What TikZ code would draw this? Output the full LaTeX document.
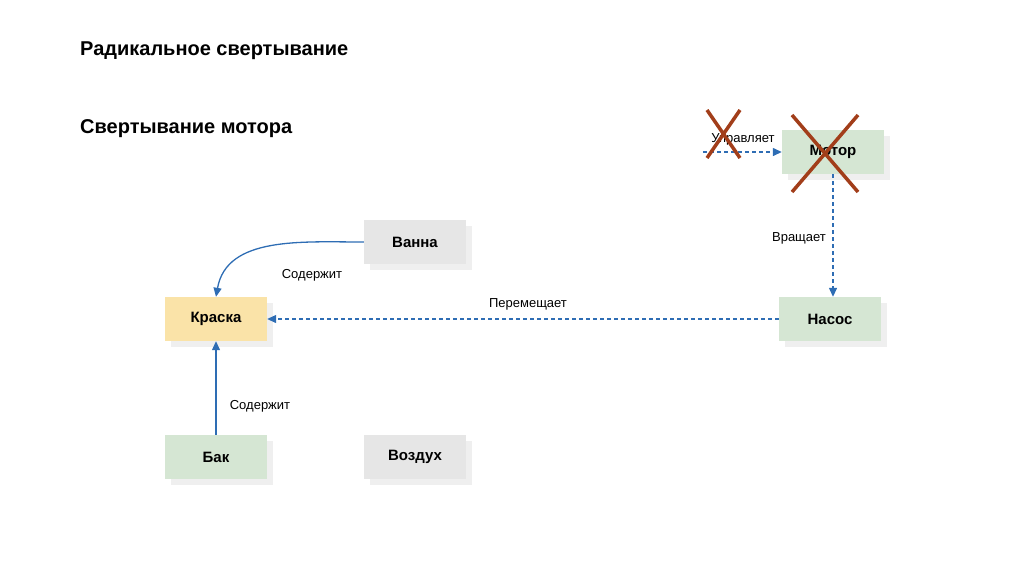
\documentclass[tikz,border=0pt]{standalone}
\usepackage{fontspec}
\setmainfont{Liberation Sans}
\usetikzlibrary{arrows.meta}
\definecolor{gbox}{HTML}{D5E6D3}
\definecolor{ybox}{HTML}{FAE3A8}
\definecolor{grbox}{HTML}{E6E6E6}
\definecolor{shd}{HTML}{EFEFEF}
\definecolor{arr}{HTML}{2E6DB4}
\definecolor{xred}{HTML}{A23E1A}
\begin{document}
\begin{tikzpicture}[x=1pt,y=-1pt,
  box/.style={minimum width=102pt,minimum height=44pt,inner sep=0pt,font=\fontsize{15}{17}\selectfont\bfseries},
  lbl/.style={font=\fontsize{13}{15}\selectfont},
  con/.style={draw=arr,line width=1.3pt,-{Triangle[length=9pt,width=8pt]}},
  dsh/.style={dash pattern=on 4pt off 3pt},
  xm/.style={draw=xred,line width=3.5pt}]
\useasboundingbox (0,0) rectangle (1024,574);
\node[anchor=base west,inner sep=0pt,font=\fontsize{20}{23}\selectfont\bfseries] (t1) at (80,55) {Радикальное свертывание};
\node[anchor=base west,inner sep=0pt,font=\fontsize{20}{23}\selectfont\bfseries] (t2) at (80,133) {Свертывание мотора};
\foreach \n/\x/\y/\c/\t in {motor/833/152/gbox/Мотор, vanna/415/242/grbox/Ванна, kraska/216/319/ybox/Краска, nasos/830/319/gbox/Насос, bak/216/457/gbox/Бак, vozduh/415/457/grbox/Воздух}{
  \fill[shd] (\x-45,\y-16) rectangle (\x+57,\y+28);
  \node[box,fill=\c] (\n) at (\x,\y) {\t};
}
\coordinate (s) at (703,152);
\draw[con,dsh] (s) -- (motor.west);
\node[lbl] (l1) at (743,139) {Управляет};
\draw[con,dsh] (motor.south) -- (motor.south |- nasos.north);
\node[lbl] (l2) at (799,238) {Вращает};
\draw[con,dsh] (nasos.west) -- (kraska.east);
\node[lbl] (l3) at (528,304) {Перемещает};
\draw[con] (vanna.west) to[out=180,in=80] (kraska.north);
\node[lbl] (l4) at (312,275) {Содержит};
\draw[con] (bak.north) -- (kraska.south);
\node[lbl] (l5) at (260,406) {Содержит};
\draw[xm] (707,110) -- (740,158) (740,110) -- (707,158);
\draw[xm] (792,115) -- (858,192) (858,115) -- (792,192);
\end{tikzpicture}
\end{document}
